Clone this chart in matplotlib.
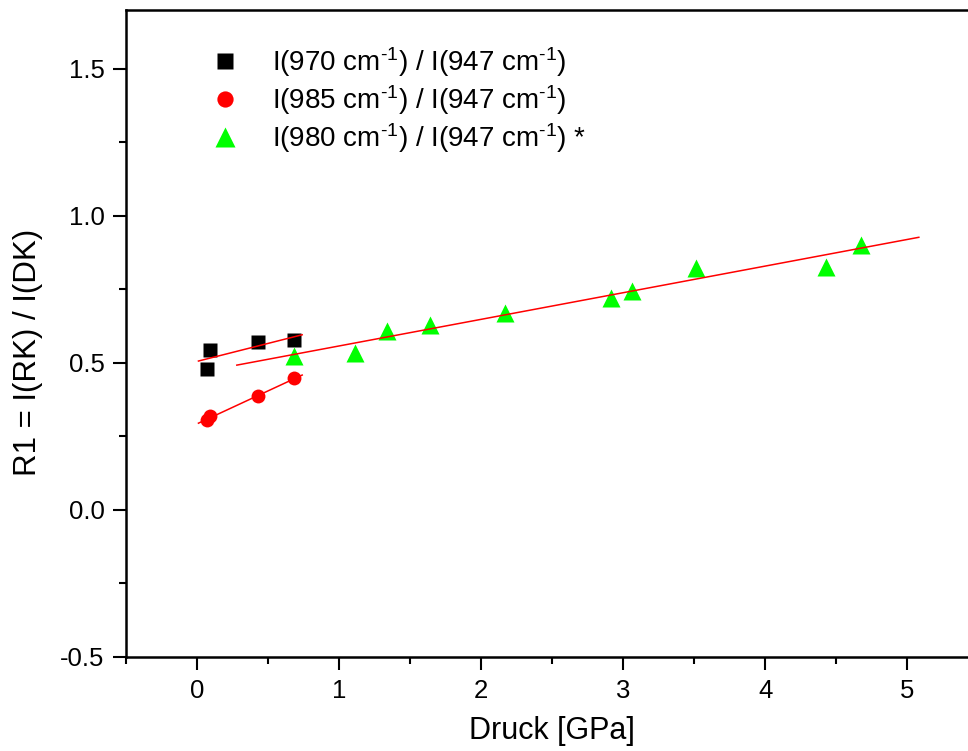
import numpy as np
import matplotlib.pyplot as plt

plt.rcParams['font.family'] = ['Liberation Sans', 'DejaVu Sans']
plt.rcParams['mathtext.fontset'] = 'custom'
plt.rcParams['mathtext.rm'] = 'Liberation Sans'
plt.rcParams['mathtext.it'] = 'Liberation Sans'

p_low = np.array([0.07, 0.09, 0.43, 0.68])
r_970 = np.array([0.48, 0.545, 0.572, 0.579])
r_985 = np.array([0.305, 0.318, 0.386, 0.447])

p_980 = np.array([0.68, 1.11, 1.34, 1.64, 2.17, 2.91, 3.06, 3.51, 4.43, 4.67])
r_980 = np.array([0.525, 0.532, 0.607, 0.630, 0.670, 0.722, 0.745, 0.823, 0.826, 0.902])

# Bereiche der Ausgleichsgeraden
fit_low = [0.01, 0.74]
fit_980 = [0.28, 5.08]

sup = '$^{\u20101}$'
labels = ['I(970 cm' + sup + ') / I(947 cm' + sup + ')',
          'I(985 cm' + sup + ') / I(947 cm' + sup + ')',
          'I(980 cm' + sup + ') / I(947 cm' + sup + ') *']

fig = plt.figure(figsize=(9.68, 7.51), dpi=100)
ax = fig.add_axes([126/968, 1 - 657/751, (978.5 - 126)/968, (657 - 10)/751])

ax.plot(p_low, r_970, 's', color='black', ms=9.5, mec='none', label=labels[0])
ax.plot(p_low, r_985, 'o', color='#ff0000', ms=10, mec='none', label=labels[1])
ax.plot(p_980, r_980, '^', color='#00ff00', ms=12.5, mec='none', label=labels[2])

# lineare Fits
for x, y, rng in [(p_low, r_970, fit_low), (p_low, r_985, fit_low), (p_980, r_980, fit_980)]:
    m, b = np.polyfit(x, y, 1)
    xx = np.array(rng)
    ax.plot(xx, m * xx + b, '-', color='#ff0000', lw=1.1, zorder=3)

ax.set_xlim(-0.5, 5.5)
ax.set_ylim(-0.5, 1.7)
ax.set_xticks(np.arange(0, 6, 1))
ax.set_xticks(np.arange(-0.5, 5.6, 0.5), minor=True)
ax.set_yticks([-0.5, 0.0, 0.5, 1.0, 1.5])
ax.set_yticks(np.arange(-0.5, 1.71, 0.25), minor=True)
ax.set_yticklabels(['-0.5', '0.0', '0.5', '1.0', '1.5'])

ax.tick_params(which='major', direction='out', length=9.5, width=1.5, labelsize=18.5, pad=6)
ax.tick_params(which='minor', direction='out', length=5, width=1.5)
for s in ax.spines.values():
    s.set_linewidth(1.8)

ax.set_xlabel('Druck [GPa]', fontsize=22, labelpad=10)
ax.set_ylabel('R1 = I(RK) / I(DK)', fontsize=22.5)
ax.yaxis.set_label_coords(-0.097, 0.4706)

ax.legend(loc='upper left', bbox_to_anchor=(0.07, 0.984), frameon=False, fontsize=20,
          handlelength=1.0, handletextpad=1.22, labelspacing=0.14, markerscale=1.17)

fig.savefig('out.png', dpi=100)
